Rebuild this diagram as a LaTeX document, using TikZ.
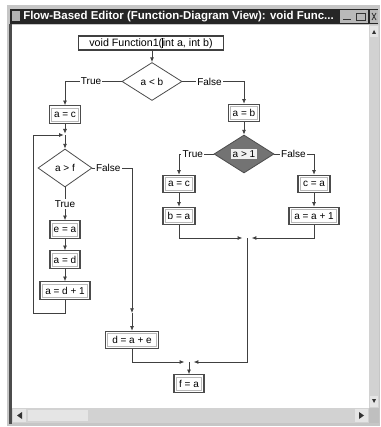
\documentclass[tikz,border=0pt]{standalone}
\usepackage{fontspec}
\setmainfont{Liberation Sans}
\usetikzlibrary{shapes.geometric,arrows.meta}
\begin{document}
\begin{tikzpicture}[x=0.75pt,y=-0.75pt,
  font=\fontsize{7.5}{8}\selectfont,
  ln/.style={draw=black!75,line width=0.6pt},
  arr/.style={ln,-{Latex[length=3.5pt,width=3pt]}},
  stm/.style={draw=black!70,line width=0.9pt,fill=white,minimum height=13pt,inner sep=1pt,
    path picture={\draw[gray!55,line width=0.6pt]
      ([shift={(1.6pt,-1.6pt)}]path picture bounding box.north west) rectangle
      ([shift={(-1.6pt,1.6pt)}]path picture bounding box.south east);}},
  dia/.style={diamond,draw=black!70,line width=0.6pt,fill=white,inner sep=0pt},
  lbl/.style={fill=white,inner sep=1pt}]
\useasboundingbox (0,0) rectangle (380,427);
\fill[white] (0,0) rectangle (380,427);
% window frame
\fill[gray!45] (7,5) rectangle (380,426);
\fill[black!85] (10,9) rectangle (378,24);
\fill[gray!60] (12,11) rectangle (20,21);
\node[anchor=west,text=white,font=\fontsize{8.6}{9}\selectfont\bfseries,inner sep=0] (title) at (23,16.5) {Flow-Based Editor (Function-Diagram View): void Func...};
\fill[gray!55] (340,10) rectangle (368,23);
\draw[black!80,line width=0.5pt] (343,19) -- (351,19) (356,13) rectangle (365,20);
\fill[gray!55] (370,10) rectangle (378,23);
\draw[black!80,line width=0.6pt] (372,13) -- (376,20) (376,13) -- (372,20);
% client area
\fill[white] (12,25) rectangle (369,408);
\fill[black!70] (9,24) rectangle (12,424);
% right scrollbar
\fill[gray!35] (369,25) rectangle (379,408);
\fill[gray!20] (370,26) rectangle (378,37);
\fill[black!80] (372,34) -- (376,34) -- (374,30) -- cycle;
\fill[gray!20] (370,396) rectangle (378,407);
\fill[black!80] (372,399) -- (376,399) -- (374,403) -- cycle;
% bottom scrollbar
\fill[gray!35] (12,408) rectangle (369,423);
\fill[gray!20] (13,409) rectangle (26,422);
\fill[black!80] (22,412) -- (22,419) -- (17,415.5) -- cycle;
\fill[gray!20] (28,410) rectangle (88,421);
\fill[gray!20] (355,409) rectangle (368,422);
\fill[black!80] (359,412) -- (359,419) -- (364,415.5) -- cycle;
\fill[gray!50] (369,408) rectangle (379,423);

% flowchart nodes
\node[draw=black!75,line width=0.8pt,fill=white,minimum width=108.75pt,minimum height=10.5pt,inner sep=1pt,font=\fontsize{8}{9}\selectfont] (fn) at (151,43) {void Function1(\rule[-1.5pt]{0.4pt}{8pt}int a, int b)};
\node[dia,minimum width=45pt,minimum height=28.5pt] (d1) at (152,81.5) {a < b};
\node[stm,minimum width=23.25pt] (ac1) at (65,114.5) {a = c};
\node[stm,minimum width=23.25pt] (ab) at (244,113) {a = b};
\node[dia,minimum width=40.5pt,minimum height=28.5pt] (d2) at (65,168) {a > f};
\node[stm,minimum width=22.5pt] (ea) at (65,229.5) {e = a};
\node[stm,minimum width=22.5pt] (ad) at (65,259.5) {a = d};
\node[stm,minimum width=37.5pt] (ad1) at (65,290.5) {a = d + 1};
\node[dia,fill=black!55,minimum width=45pt,minimum height=28.5pt] (d3) at (244,154) {};
\node[fill=gray!12,inner sep=1pt] (d3t) at (d3) {a > 1};
\node[stm,minimum width=24pt] (ac2) at (179,184) {a = c};
\node[stm,minimum width=24pt] (ba) at (179,216) {b = a};
\node[stm,minimum width=24pt] (ca) at (314,184) {c = a};
\node[stm,minimum width=37.5pt] (aa1) at (314,216) {a = a + 1};
\node[stm,minimum width=39.75pt] (dae) at (132,340) {d = a + e};
\node[stm,minimum width=22.5pt] (fa) at (189,383.5) {f = a};

% connectors
\draw[arr] (d1.north |- fn.south) -- (d1.north);
\draw[arr] (d1.west) -| (ac1.north) node[lbl,pos=0.27] {True};
\draw[arr] (d1.east) -| (ab.north) node[lbl,pos=0.22] {False};
\coordinate (m1) at (65,135);
\coordinate (lb) at (33,313);
\coordinate (lt) at (33,135);
\draw[arr,shorten >=1pt] (ac1.south) -- (m1);
\draw[arr,shorten >=1pt] (ad1.south) |- (lb) -- (lt) -- (m1);
\draw[arr] (m1) -- (d2.north);
\coordinate (fm) at (132,313);
\draw[arr] (d2.east) -| (fm) node[lbl,pos=0.2] {False};
\draw[arr] (fm) -- (dae.north);
\draw[arr] (d2.south) -- (ea.north) node[lbl,midway] {True};
\draw[arr] (ea) -- (ad);
\draw[arr] (ad) -- (ad1);
\draw[arr] (ab.south) -- (d3.north);
\draw[arr] (d3.west) -| (ac2.north) node[lbl,pos=0.3] {True};
\draw[arr] (d3.east) -| (ca.north) node[lbl,pos=0.24] {False};
\draw[arr] (ac2) -- (ba);
\draw[arr] (ca) -- (aa1);
\coordinate (m2) at (247,238);
\draw[arr,shorten >=3.5pt] (ba.south) |- (m2);
\draw[arr,shorten >=3.5pt] (aa1.south) |- (m2);
\coordinate (m3) at (189,362);
\draw[arr,shorten >=3.5pt] (m2) |- (m3);
\draw[arr,shorten >=3.5pt] (dae.south) |- (m3);
\draw[arr] (m3) -- (fa.north);
\end{tikzpicture}
\end{document}
